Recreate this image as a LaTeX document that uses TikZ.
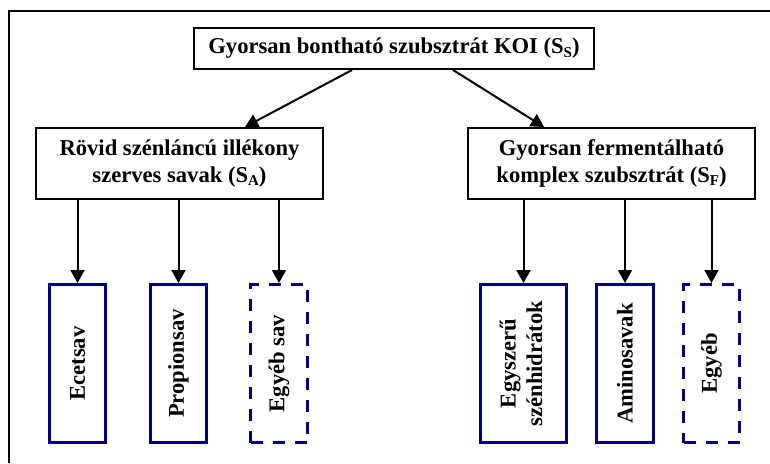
\documentclass[tikz,border=0pt]{standalone}
\usepackage{fontspec}
\setmainfont{Liberation Serif}
\usetikzlibrary{arrows.meta,calc}
\definecolor{navyb}{RGB}{0,0,128}
\newcommand\mysub[1]{\raisebox{-3.5pt}{\fontsize{15}{15}\selectfont #1}}
\begin{document}
\begin{tikzpicture}[x=1pt,y=-1pt,
  font=\fontsize{22.6}{26.5}\selectfont\bfseries,
  blackbox/.style={draw=black,line width=1.6pt,inner sep=0pt,align=center},
  leaf/.style={draw=navyb,line width=3pt,inner sep=0pt,minimum width=#1,minimum height=158pt},
  leafd/.style={leaf=#1,dash pattern=on 12pt off 10pt},
  arr/.style={draw=black,line width=2pt,-{Triangle[length=13pt,width=14pt]}}]
\useasboundingbox (0,0) rectangle (770,463);
\draw[line width=2.2pt] (9,463) -- (9,11) -- (770,11);
% top and middle boxes
\node[blackbox,minimum width=400pt,minimum height=41.4pt] (top) at (394,48.5)
  {Gyorsan bontható szubsztrát KOI (S\mysub{S})};
\node[blackbox,minimum width=287.4pt,minimum height=71.4pt] (lbox) at (179.5,163.5)
  {Rövid szénláncú illékony\\szerves savak (S\mysub{A})};
\node[blackbox,minimum width=287.4pt,minimum height=71.4pt] (rbox) at (611.5,163.5)
  {Gyorsan fermentálható\\komplex szubsztrát (S\mysub{F})};
% leaf boxes
\node[leaf=56pt] (ecet) at (77.5,363.5) {\rotatebox{90}{Ecetsav}};
\node[leaf=56pt] (prop) at (178.5,363.5) {\rotatebox{90}{Propionsav}};
\node[leafd=57pt] (esav) at (279,363.5) {\rotatebox{90}{Egyéb sav}};
\node[leaf=86pt] (egysz) at (523.5,363.5)
  {\rotatebox{90}{\begin{tabular}{@{}c@{}}Egyszerű\\szénhidrátok\end{tabular}}};
\node[leaf=57pt] (amino) at (625,363.5) {\rotatebox{90}{Aminosavak}};
\node[leafd=56pt] (egyeb) at (711.5,363.5) {\rotatebox{90}{Egyéb}};
% connectors
\draw[arr] ($(top.south)+(-42,0)$) -- ($(lbox.north)+(65.5,0)$);
\draw[arr] ($(top.south)+(59,0)$) -- ($(rbox.north)+(-67.5,0)$);
\foreach \n in {ecet,prop,esav}
  \draw[arr] (lbox.south -| \n.north) -- (\n.north);
\foreach \n in {egysz,amino,egyeb}
  \draw[arr] (rbox.south -| \n.north) -- (\n.north);
\end{tikzpicture}
\end{document}
